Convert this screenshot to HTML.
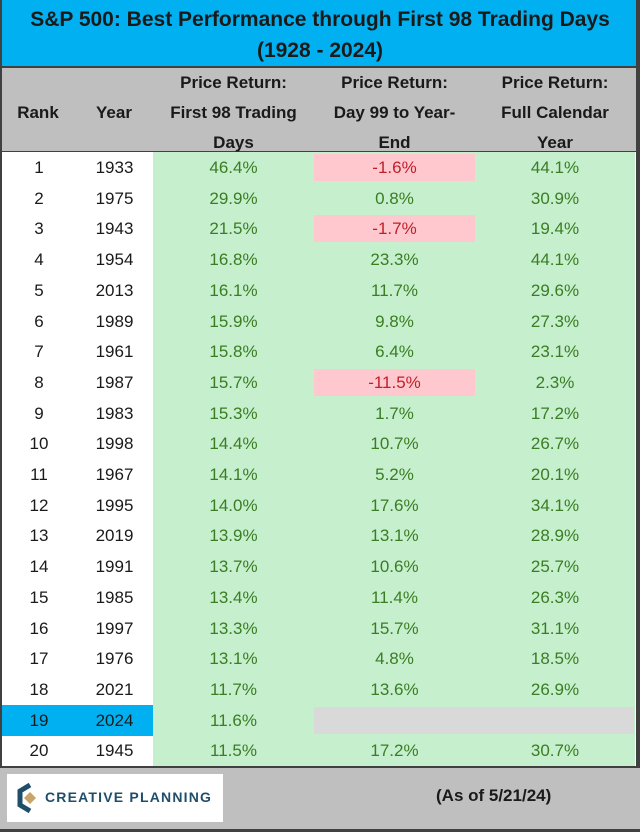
<!DOCTYPE html>
<html><head><meta charset="utf-8"><style>
html,body{margin:0;padding:0;}
body{width:640px;height:832px;position:relative;overflow:hidden;background:#fff;font-family:"Liberation Sans",sans-serif;}
.abs{position:absolute;}
#title{left:0;top:0;width:640px;height:68px;background:#00b0f0;border-bottom:2px solid #404040;box-sizing:border-box;text-align:center;font-weight:bold;font-size:21px;line-height:31px;padding-top:4px;color:#1a1a1a;white-space:nowrap;}
#head{left:0;top:68px;width:640px;height:84px;background:#bfbfbf;border-bottom:1px solid #404040;box-sizing:border-box;}
.h{position:absolute;text-align:center;font-weight:bold;font-size:17px;line-height:30px;color:#1a1a1a;top:0px;white-space:nowrap;}
.cell{position:absolute;text-align:center;font-size:17px;height:31px;line-height:31px;box-sizing:border-box;}
.g{color:#3a7d22;}
.r{color:#c0202a;}
#footer{left:0;top:766px;width:640px;height:66px;background:#bfbfbf;border-top:2px solid #404040;border-bottom:3px solid #404040;box-sizing:border-box;}
</style></head><body>
<div id="title" class="abs">S&amp;P 500: Best Performance through First 98 Trading Days<br>(1928 - 2024)</div>
<div id="head" class="abs">
 <div class="h" style="left:0;width:76px;top:30px">Rank</div>
 <div class="h" style="left:76px;width:76px;top:30px">Year</div>
 <div class="h" style="left:153px;width:161px">Price Return:<br>First 98 Trading<br>Days</div>
 <div class="h" style="left:314px;width:161px">Price Return:<br>Day 99 to Year-<br>End</div>
 <div class="h" style="left:475px;width:160px">Price Return:<br>Full Calendar<br>Year</div>
</div>
<div class="abs" style="left:153px;top:152px;width:482px;height:614px;background:#c6efce"></div>
<div class="abs" style="left:0;top:0;width:2px;height:832px;background:#404040"></div>
<div class="abs" style="left:636px;top:0;width:4px;height:832px;background:#404040"></div>
<div id="rows"></div>
<div id="footer" class="abs">
 <div class="abs" style="left:7px;top:6px;width:216px;height:48px;background:#fff">
  <svg class="abs" style="left:10px;top:9px" width="26" height="30" viewBox="0 0 26 30">
   <path d="M13 2 L3 8 L3 22 L13 28" fill="none" stroke="#1f4e6b" stroke-width="5"/>
   <polygon points="13,9 19,15 13,21 7,15" fill="#c9a46a"/>
  </svg>
  <div class="abs" style="left:38px;top:15px;font-size:14px;font-weight:bold;letter-spacing:1.2px;color:#1f4e6b;white-space:nowrap">CREATIVE PLANNING</div>
 </div>
 <div class="abs" style="left:436px;top:18px;font-size:17px;font-weight:bold;color:#1a1a1a;white-space:nowrap">(As of 5/21/24)</div>
</div>
<script>
const ranks=[1,2,3,4,5,6,7,8,9,10,11,12,13,14,15,16,17,18,19,20];
const years=[1933,1975,1943,1954,2013,1989,1961,1987,1983,1998,1967,1995,2019,1991,1985,1997,1976,2021,2024,1945];
const first98=[46.4,29.9,21.5,16.8,16.1,15.9,15.8,15.7,15.3,14.4,14.1,14.0,13.9,13.7,13.4,13.3,13.1,11.7,11.6,11.5];
const day99=[-1.6,0.8,-1.7,23.3,11.7,9.8,6.4,-11.5,1.7,10.7,5.2,17.6,13.1,10.6,11.4,15.7,4.8,13.6,null,17.2];
const fullYear=[44.1,30.9,19.4,44.1,29.6,27.3,23.1,2.3,17.2,26.7,20.1,34.1,28.9,25.7,26.3,31.1,18.5,26.9,null,30.7];
const top0=152,rh=30.7;
const rows=document.getElementById('rows');
function mk(l,t,w,txt,cls,bg,name){
 const d=document.createElement('div');
 d.className='cell '+cls;
 d.style.left=l+'px';d.style.top=t+'px';d.style.width=w+'px';
 if(bg)d.style.background=bg;
 d.textContent=txt;
 
 
 rows.appendChild(d);
 return d;
}
ranks.forEach((r,i)=>{
 const t=top0+i*rh;
 const cur=years[i]===2024;
 const bg=cur?'#00b0f0':null;
 mk(2,t,74,String(r),'',bg,'rank-cell').style.color='#1a1a1a';
 mk(76,t,77,String(years[i]),'',bg,'year-cell').style.color='#1a1a1a';
 mk(153,t,161,first98[i].toFixed(1)+'%','g',null,'first98-cell');
 if(day99[i]===null){
  const d=mk(314,t+2,320,'','',null,'pending-cell');
  d.style.background='#d9d9d9';d.style.height='27px';
 }else{
  const neg=day99[i]<0;
  const d=mk(314,t+(neg?2:0),161,day99[i].toFixed(1)+'%',neg?'r':'g',neg?'#ffc7ce':null,'day99-cell');
  if(neg){d.style.height='27px';d.style.lineHeight='27px';}
 }
 if(fullYear[i]!==null) mk(475,t,160,fullYear[i].toFixed(1)+'%','g',null,'full-year-cell');
});
</script>
</body></html>
